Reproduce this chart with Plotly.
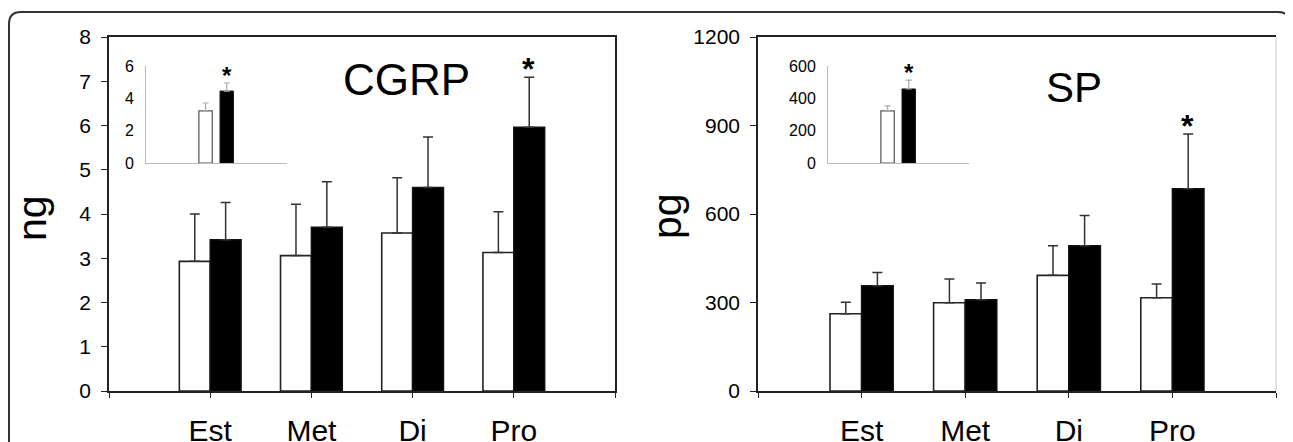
import plotly.graph_objects as go

# The page body has an 8px margin, so the figure is drawn 8px in from the
# window's top-left corner; positions below are given in window pixels.
OFF = 8
W, H = 1293 - OFF, 442 - OFF

# ---------------- data ----------------
categories = ["Est", "Met", "Di", "Pro"]

cgrp_white = [2.93, 3.06, 3.57, 3.13]
cgrp_white_err = [1.07, 1.16, 1.25, 0.92]
cgrp_black = [3.42, 3.70, 4.60, 5.96]
cgrp_black_err = [0.84, 1.03, 1.14, 1.13]

sp_white = [262, 299, 392, 316]
sp_white_err = [39, 81, 100, 47]
sp_black = [357, 309, 492, 686]
sp_black_err = [45, 57, 103, 185]

cgrp_inset_white = [3.22]
cgrp_inset_white_err = [0.49]
cgrp_inset_black = [4.45]
cgrp_inset_black_err = [0.50]

sp_inset_white = [322]
sp_inset_white_err = [31]
sp_inset_black = [458]
sp_inset_black_err = [55]

cgrp_ticks = [0, 1, 2, 3, 4, 5, 6, 7, 8]
sp_ticks = [0, 300, 600, 900, 1200]
cgrp_inset_ticks = [0, 2, 4, 6]
sp_inset_ticks = [0, 200, 400, 600]

# ---------------- helpers ----------------
FONT = "Liberation Sans, Arial, sans-serif"
pos = list(range(1, len(categories) + 1))
tickpos = list(range(0, len(categories) + 2))
ticktext = [""] + categories + [""]


def px(x):
    return (x - OFF) / W


def py(y):
    return 1 - (y - OFF) / H


def dx(a, b):
    return [px(a), px(b)]


def dy(top, bottom):
    return [py(bottom), py(top)]


def err(vals, col, th=1.5, w=5):
    return dict(type="data", array=vals, arrayminus=[0] * len(vals),
                symmetric=False, color=col, thickness=th, width=w)


fig = go.Figure()


def main_bars(white, werr, black, berr, xa, ya):
    fig.add_trace(go.Bar(x=pos, y=white, error_y=err(werr, "#333"),
                         marker=dict(color="white", line=dict(color="#222", width=1.6)),
                         xaxis=xa, yaxis=ya, offsetgroup="w" + xa, showlegend=False))
    fig.add_trace(go.Bar(x=pos, y=black, error_y=err(berr, "#333"),
                         marker=dict(color="black", line=dict(color="#111", width=1.5)),
                         xaxis=xa, yaxis=ya, offsetgroup="b" + xa, showlegend=False))


main_bars(cgrp_white, cgrp_white_err, cgrp_black, cgrp_black_err, "x", "y")
main_bars(sp_white, sp_white_err, sp_black, sp_black_err, "x2", "y2")


def inset_bars(white, werr, black, berr, xa, ya):
    fig.add_trace(go.Bar(x=[1], y=white, width=0.19, offset=-0.25,
                         error_y=err(werr, "#aaa", 1.2, 3),
                         marker=dict(color="white", line=dict(color="#555", width=1.2)),
                         xaxis=xa, yaxis=ya, showlegend=False))
    fig.add_trace(go.Bar(x=[1], y=black, width=0.19, offset=0.05,
                         error_y=err(berr, "#aaa", 1.2, 3),
                         marker=dict(color="black", line=dict(color="#111", width=1)),
                         xaxis=xa, yaxis=ya, showlegend=False))


inset_bars(cgrp_inset_white, cgrp_inset_white_err, cgrp_inset_black, cgrp_inset_black_err, "x3", "y3")
inset_bars(sp_inset_white, sp_inset_white_err, sp_inset_black, sp_inset_black_err, "x4", "y4")

# ---------------- axes ----------------
main_x = dict(range=[0, len(categories) + 1], tickvals=tickpos, ticktext=ticktext,
              ticks="outside", ticklen=5, tickwidth=1.2, tickcolor="#222",
              showline=True, linecolor="#222", linewidth=1.5, mirror=True,
              showgrid=False, zeroline=False, automargin=False,
              tickfont=dict(family=FONT, size=30, color="black"),
              ticklabelstandoff=7, fixedrange=True)
main_y = dict(ticks="outside", ticklen=6, tickwidth=1.2, tickcolor="#222",
              showline=True, linecolor="#222", linewidth=1.5,
              showgrid=False, zeroline=False, automargin=False,
              tickfont=dict(family=FONT, size=21, color="black"),
              ticklabelstandoff=6)
inset_x = dict(range=[0, 2], showticklabels=False, ticks="", showline=True,
               linecolor="#bbb", linewidth=1, showgrid=False, zeroline=False,
               automargin=False)
inset_y = dict(ticks="", showline=True, linecolor="#bbb", linewidth=1,
               showgrid=False, zeroline=False, automargin=False,
               tickfont=dict(family=FONT, size=16, color="black"),
               ticklabelstandoff=8)

fig.update_layout(
    width=W, height=H, autosize=False,
    margin=dict(l=0, r=0, t=0, b=0, pad=0),
    paper_bgcolor="white", plot_bgcolor="rgba(0,0,0,0)",
    barmode="group", bargap=0.39, bargroupgap=0,
    font=dict(family=FONT, color="black"),
    xaxis=dict(main_x, domain=dx(109, 615), anchor="y"),
    yaxis=dict(main_y, domain=dy(37, 391), anchor="x", range=[0, 8], tickvals=cgrp_ticks,
               mirror=True),
    xaxis2=dict(main_x, domain=dx(758, 1276), anchor="y2"),
    yaxis2=dict(main_y, domain=dy(37, 391), anchor="x2", range=[0, 1200], tickvals=sp_ticks,
                mirror=False),
    xaxis3=dict(inset_x, domain=dx(146, 287), anchor="y3"),
    yaxis3=dict(inset_y, domain=dy(66, 163), anchor="x3", range=[0, 6], tickvals=cgrp_inset_ticks),
    xaxis4=dict(inset_x, domain=dx(828, 969), anchor="y4"),
    yaxis4=dict(inset_y, domain=dy(66, 163), anchor="x4", range=[0, 600], tickvals=sp_inset_ticks),
)

# light right edge of the SP panel
fig.add_shape(type="line", xref="x2 domain", yref="y2 domain", x0=1, x1=1, y0=0, y1=1,
              line=dict(color="#c8c8c8", width=1))

# ---------------- annotations ----------------
ann = []
ann.append(dict(text="CGRP", x=px(406), y=py(80), xref="paper", yref="paper",
                xanchor="center", yanchor="middle", showarrow=False,
                font=dict(family=FONT, size=44, color="black")))
ann.append(dict(text="SP", x=px(1074), y=py(88), xref="paper", yref="paper",
                xanchor="center", yanchor="middle", showarrow=False,
                font=dict(family=FONT, size=42, color="black")))
ann.append(dict(text="ng", x=px(32), y=py(218), xref="paper", yref="paper",
                xanchor="center", yanchor="middle", showarrow=False, textangle=-90,
                font=dict(family=FONT, size=41, color="black")))
ann.append(dict(text="pg", x=px(667), y=py(216), xref="paper", yref="paper",
                xanchor="center", yanchor="middle", showarrow=False, textangle=-90,
                font=dict(family=FONT, size=41, color="black")))

# significance stars above the black bars
ann.append(dict(text="<b>*</b>", x=pos[-1], y=cgrp_black[-1] + cgrp_black_err[-1],
                xref="x", yref="y", xshift=15, yshift=-12, yanchor="bottom",
                showarrow=False, font=dict(family=FONT, size=32, color="black")))
ann.append(dict(text="<b>*</b>", x=pos[-1], y=sp_black[-1] + sp_black_err[-1],
                xref="x2", yref="y2", xshift=15, yshift=-12, yanchor="bottom",
                showarrow=False, font=dict(family=FONT, size=32, color="black")))
ann.append(dict(text="<b>*</b>", x=1.15, y=cgrp_inset_black[0] + cgrp_inset_black_err[0],
                xref="x3", yref="y3", yshift=-8, yanchor="bottom",
                showarrow=False, font=dict(family=FONT, size=24, color="black")))
ann.append(dict(text="<b>*</b>", x=1.15, y=sp_inset_black[0] + sp_inset_black_err[0],
                xref="x4", yref="y4", yshift=-8, yanchor="bottom",
                showarrow=False, font=dict(family=FONT, size=24, color="black")))
fig.update_layout(annotations=ann)


# ---------------- rounded outer frame ----------------
def frame_path(x0, y0, x1, y1, r):
    def P(x, y):
        return f"{px(x):.6f},{py(y):.6f}"
    return (f"M {P(x0, y1)} L {P(x0, y0 + r)} Q {P(x0, y0)} {P(x0 + r, y0)} "
            f"L {P(x1 - r, y0)} Q {P(x1, y0)} {P(x1, y0 + r)} L {P(x1, y1)}")


fig.add_shape(type="path", path=frame_path(9, 12, 1290, 470, 12), xref="paper", yref="paper",
              line=dict(color="#333", width=2), layer="below")

fig.write_html("out.html")
